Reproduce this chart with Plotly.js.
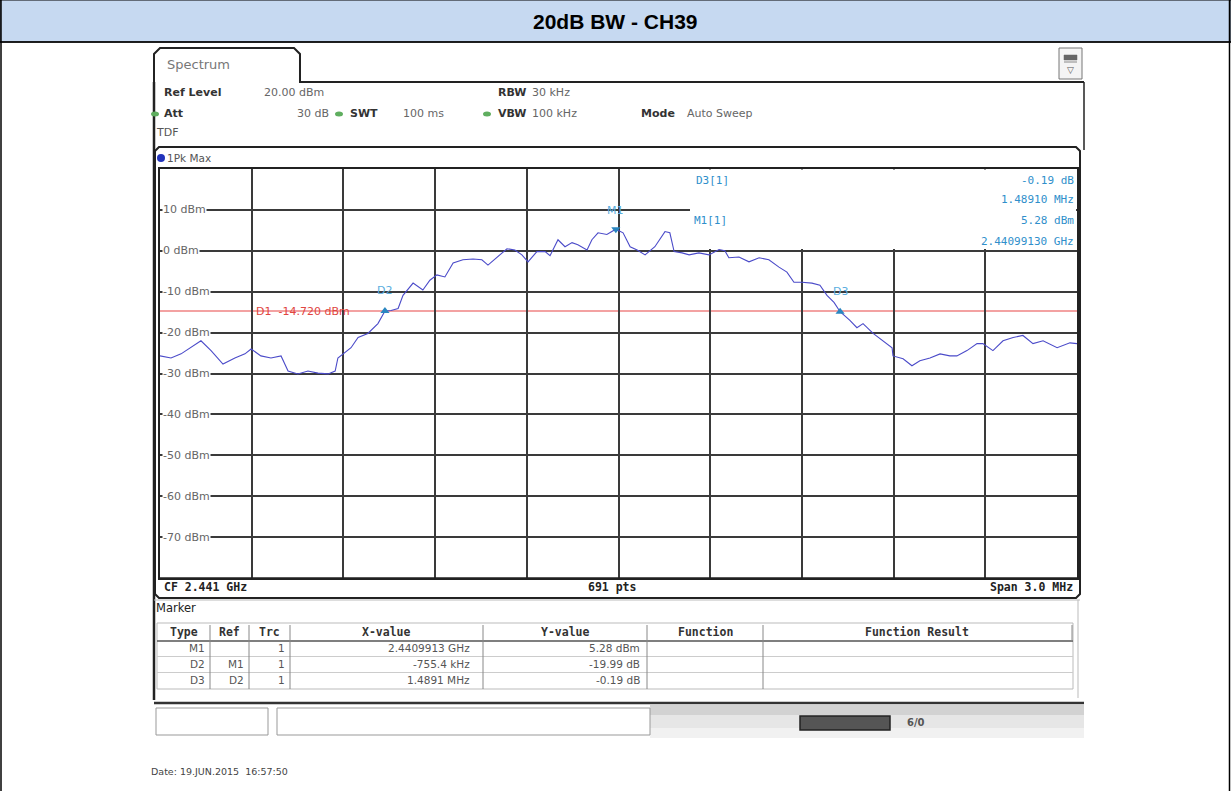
<!DOCTYPE html>
<html>
<head>
<meta charset="utf-8">
<script src="https://cdn.plot.ly/plotly-3.0.1.min.js"></script>
<style>html,body{margin:0;padding:0;background:#fff;}#chart{width:1231px;height:791px;}</style>
</head>
<body>
<div id="chart"></div>
<script>
// ---------------- DATA ----------------
const chartTitle = '20dB BW - CH39';
const freqMHz = [2439.500,2439.536,2439.569,2439.601,2439.634,2439.667,2439.706,2439.745,2439.778,2439.798,
2439.830,2439.863,2439.896,2439.919,2439.951,2439.984,2440.017,2440.050,2440.073,2440.082,
2440.105,2440.125,2440.148,2440.180,2440.213,2440.236,2440.256,2440.279,2440.295,2440.328,
2440.360,2440.383,2440.406,2440.432,2440.459,2440.491,2440.524,2440.553,2440.573,2440.603,
2440.635,2440.661,2440.684,2440.704,2440.733,2440.760,2440.776,2440.802,2440.825,2440.848,
2440.867,2440.897,2440.913,2440.933,2440.962,2440.991,2441.015,2441.038,2441.061,2441.087,
2441.119,2441.152,2441.168,2441.182,2441.208,2441.231,2441.263,2441.296,2441.329,2441.348,
2441.361,2441.394,2441.427,2441.460,2441.492,2441.525,2441.551,2441.574,2441.600,2441.633,
2441.659,2441.682,2441.705,2441.725,2441.757,2441.780,2441.800,2441.833,2441.865,2441.895,
2441.898,2441.931,2441.960,2441.986,2442.019,2442.052,2442.084,2442.107,2442.140,2442.173,
2442.192,2442.225,2442.258,2442.291,2442.323,2442.356,2442.389,2442.435,2442.477,2442.500];
const levelDbm = [-25.7,-26.2,-25.2,-23.7,-22.0,-24.4,-27.7,-26.2,-25.2,-24.0,
-25.7,-26.2,-25.7,-29.4,-30.1,-29.4,-29.9,-30.1,-29.4,-26.2,
-24.9,-23.7,-21.2,-20.2,-17.8,-14.7,-14.6,-14.1,-10.9,-7.9,
-9.6,-7.2,-5.9,-6.4,-3.0,-2.2,-2.0,-2.2,-3.5,-1.5,
0.5,0.2,-1.0,-2.7,-0.2,-0.2,-1.2,2.7,1.0,2.0,
1.5,0.2,2.7,4.4,4.0,5.28,4.4,1.0,0.2,-1.0,
1.0,4.7,4.4,-0.2,-0.5,-1.0,-0.5,-1.0,0.3,0.0,
-1.7,-1.5,-2.7,-1.7,-2.2,-4.0,-5.2,-7.7,-7.7,-7.9,
-8.4,-10.9,-12.6,-14.9,-17.0,-18.8,-17.8,-20.2,-22.0,-23.7,
-25.7,-26.4,-28.1,-26.9,-26.2,-25.2,-25.7,-25.7,-24.4,-22.7,
-22.7,-24.4,-22.0,-21.2,-20.7,-22.7,-22.0,-23.7,-22.5,-22.7];
const xRangeMHz = [2439.5, 2442.5];
const xDivMHz = 0.3;
const yRangeDbm = [-80, 20];
const yTickVals = [10, 0, -10, -20, -30, -40, -50, -60, -70];
const yTickText = ['10 dBm', '0 dBm', '-10 dBm', '-20 dBm', '-30 dBm', '-40 dBm', '-50 dBm', '-60 dBm', '-70 dBm'];
const markerNames = ['M1', 'D2', 'D3'];
const markerFreqMHz = [2440.9913, 2440.2359, 2441.7250];
const markerLevel = [5.28, -14.71, -14.90];
const markerSymbols = ['triangle-down', 'triangle-up', 'triangle-up'];
const d1Level = -14.72;
const d1Label = 'D1  -14.720 dBm';
const infoLeft = ['D3[1]', 'M1[1]'];
const infoRight = ['-0.19 dB', '1.48910 MHz', '5.28 dBm', '2.44099130 GHz'];
const headerBold = ['Ref Level', 'RBW', 'Att', 'SWT', 'VBW', 'Mode'];
const headerVals = ['20.00 dBm', '30 kHz', '30 dB', '100 ms', '100 kHz', 'Auto Sweep'];
const footerTexts = ['CF 2.441 GHz', '691 pts', 'Span 3.0 MHz'];
const tableHeaders = ['Type', 'Ref', 'Trc', 'X-value', 'Y-value', 'Function', 'Function Result'];
const tableType = ['M1', 'D2', 'D3'];
const tableRef = ['', 'M1', 'D2'];
const tableTrc = ['1', '1', '1'];
const tableX = ['2.4409913 GHz', '-755.4 kHz', '1.4891 MHz'];
const tableY = ['5.28 dBm', '-19.99 dB', '-0.19 dB'];
const dateText = 'Date: 19.JUN.2015  16:57:50';

// ---------------- LAYOUT HELPERS ----------------
const W = 1231, H = 791;
const px = x => x / W;
const py = y => 1 - y / H;
const SANS = 'DejaVu Sans, Verdana, sans-serif';
const MONO = 'DejaVu Sans Mono, monospace';
const BLUE = '#2f8fcb';
const annotations = [];
const shapes = [];
function txt(x, y, text, o) {
  o = o || {};
  annotations.push({
    xref: 'paper', yref: 'paper', x: px(x), y: py(y), text: text, showarrow: false,
    xanchor: o.anchor || 'left', yanchor: 'middle',
    font: {family: o.family || SANS, size: o.size || 11, color: o.color || '#555'},
    bgcolor: o.bg || 'rgba(0,0,0,0)', borderpad: o.pad === undefined ? 0 : o.pad
  });
}
function rect(x0, y0, x1, y1, o) {
  o = o || {};
  shapes.push({type: 'rect', xref: 'paper', yref: 'paper', x0: px(x0), x1: px(x1), y0: py(y1), y1: py(y0),
    fillcolor: o.fill || 'rgba(0,0,0,0)', line: {color: o.line || 'rgba(0,0,0,0)', width: o.lw === undefined ? 1 : o.lw},
    layer: o.layer || 'below'});
}
function line(x0, y0, x1, y1, color, w, layer) {
  shapes.push({type: 'line', xref: 'paper', yref: 'paper', x0: px(x0), x1: px(x1), y0: py(y0), y1: py(y1),
    line: {color: color, width: w}, layer: layer || 'above'});
}
function path(pts, color, w, fill) {
  const d = pts.map((p, i) => (i ? 'L' : 'M') + px(p[0]).toFixed(5) + ',' + py(p[1]).toFixed(5)).join(' ') + (fill ? ' Z' : '');
  shapes.push({type: 'path', xref: 'paper', yref: 'paper', path: d, line: {color: color, width: w},
    fillcolor: fill || 'rgba(0,0,0,0)', layer: 'above'});
}

// ---- outer document table + title ----
rect(0, 0, 1231, 42, {fill: '#c6d9f1', line: '#000', lw: 1});
line(1, 0, 1, 791, '#000', 1.5);
line(1229.5, 0, 1229.5, 791, '#000', 1.5);
line(0, 42, 1231, 42, '#000', 1.5);
txt(615.5, 22, '<b>' + chartTitle + '</b>', {anchor: 'center', family: 'Liberation Sans, Arial, sans-serif', size: 21, color: '#000'});

// ---- Spectrum tab and header ----
path([[154, 82], [154, 54], [160, 48], [294, 48], [300, 54], [300, 82], [1084, 82]], '#222', 2);
line(154, 82, 154, 700, '#222', 2.5);
rect(1059, 48, 1082, 79, {fill: '#f4f4f4', line: '#777', lw: 1, layer: 'above'});
rect(1064, 55, 1077, 60, {fill: '#666', line: '#666', lw: 0.5, layer: 'above'});
line(1064, 62, 1077, 62, '#888', 1);
txt(1070.5, 70, '▽', {anchor: 'center', size: 9, color: '#555'});
txt(166, 64, 'Spectrum', {size: 13, color: '#777'});
line(1084, 82, 1084, 150, '#222', 1.5);

const hx = [163, 497, 163, 349, 497, 640];
const hy = [92, 92, 114, 114, 114, 114];
const vx = [263, 531, 330, 402, 531, 686];
const vAnchor = ['left', 'left', 'right', 'left', 'left', 'left'];
for (let i = 0; i < headerBold.length; i++) {
  txt(hx[i], hy[i], '<b>' + headerBold[i] + '</b>', {size: 11, color: '#333'});
  txt(vx[i], hy[i], headerVals[i], {size: 11, color: '#666', anchor: vAnchor[i]});
}
[[155, 114], [339, 114], [487, 114]].forEach(d => {
  shapes.push({type: 'circle', xref: 'paper', yref: 'paper', x0: px(d[0] - 4), x1: px(d[0] + 4), y0: py(d[1] + 2.5), y1: py(d[1] - 2.5),
    fillcolor: '#5fae5f', line: {color: '#5fae5f', width: 0}, layer: 'above'});
});
txt(155, 132, 'TDF', {size: 11, color: '#555'});

// ---- diagram frame ----
path([[155, 155], [155, 151], [159, 147], [1076, 147], [1080, 151], [1080, 594], [1076, 598], [159, 598], [155, 594], [155, 155]], '#222', 2);
line(158, 168, 1078, 168, '#222', 1.5);
shapes.push({type: 'circle', xref: 'paper', yref: 'paper', x0: px(157), x1: px(165), y0: py(162), y1: py(154),
  fillcolor: '#2233bb', line: {color: '#2233bb', width: 0}, layer: 'above'});
txt(166, 158, '1Pk Max', {size: 10.5, color: '#555'});
line(158, 578, 1078, 578, '#222', 1.5);
txt(163, 587, '<b>' + footerTexts[0] + '</b>', {family: MONO, size: 11.5, color: '#222'});
txt(612, 587, '<b>' + footerTexts[1] + '</b>', {family: MONO, size: 11.5, color: '#222', anchor: 'center'});
txt(1074, 587, '<b>' + footerTexts[2] + '</b>', {family: MONO, size: 11.5, color: '#222', anchor: 'right'});

// marker info box (white, covers grid)
rect(690, 169.5, 1076, 249, {fill: '#fff', layer: 'above'});
txt(695, 181, infoLeft[0], {family: MONO, size: 11, color: BLUE});
txt(693, 221, infoLeft[1], {family: MONO, size: 11, color: BLUE});
[181, 200, 221, 241].forEach((yy, i) => txt(1075, yy, infoRight[i], {family: MONO, size: 11, color: BLUE, anchor: 'right'}));

// D1 line + label
shapes.push({type: 'line', xref: 'paper', yref: 'y', x0: px(160), x1: px(1077), y0: d1Level, y1: d1Level,
  line: {color: '#f3a2a2', width: 2}, layer: 'below'});
annotations.push({xref: 'x', yref: 'y', x: xRangeMHz[0] + 0.3, y: d1Level, text: d1Label, showarrow: false,
  xanchor: 'left', yanchor: 'middle', xshift: 2, font: {family: SANS, size: 11, color: '#e0463f'}});

// y tick labels inside plot
yTickVals.forEach((v, i) => annotations.push({xref: 'paper', yref: 'y', x: px(162), y: v, text: yTickText[i], showarrow: false,
  xanchor: 'left', yanchor: 'middle', bgcolor: '#fff', borderpad: 0, font: {family: SANS, size: 11, color: '#666'}}));

// marker labels
const mlShift = [10, 12, 12];
markerNames.forEach((n, i) => annotations.push({xref: 'x', yref: 'y', x: markerFreqMHz[i], y: markerLevel[i], text: n,
  showarrow: false, xanchor: 'center', yanchor: 'bottom', yshift: mlShift[i], font: {family: SANS, size: 11, color: '#5aaee0'}}));

// ---- marker table ----
line(154, 600, 1080, 600, '#bbb', 1);
line(1078, 600, 1078, 698, '#bbb', 1);
txt(155, 608, 'Marker', {family: SANS, size: 11.5, color: '#222'});
rect(157, 623, 1073, 689, {line: '#bbb', lw: 1, layer: 'above'});
line(157, 641, 1073, 641, '#555', 1.5);
line(157, 656.5, 1073, 656.5, '#ccc', 1);
line(157, 672.5, 1073, 672.5, '#ccc', 1);
const colSep = [210, 249, 290, 483, 647, 763];
colSep.forEach(c => line(c, 625, c, 689, '#888', 1));
line(1072, 625, 1072, 641, '#888', 1);
const headCx = [184, 229, 269, 386, 565, 705, 917];
tableHeaders.forEach((h, i) => txt(headCx[i], 632, '<b>' + h + '</b>', {family: MONO, size: 11.5, color: '#333', anchor: 'center'}));
const rowY = [648, 664, 680];
const colR = [206, 245, 286, 471, 641];
for (let r = 0; r < 3; r++) {
  const vals = [tableType[r], tableRef[r], tableTrc[r], tableX[r], tableY[r]];
  vals.forEach((v, c) => { if (v) txt(colR[c], rowY[r], v, {size: 10.5, color: '#555', anchor: 'right'}); });
}

// ---- status bar ----
line(154, 703, 1084, 703, '#333', 2.5);
rect(650, 705, 1084, 738, {fill: '#e6e6e6', layer: 'above'});
rect(650, 705, 1084, 715, {fill: '#d2d2d2', layer: 'above'});
rect(650, 728, 1084, 738, {fill: '#f1f1f1', layer: 'above'});
rect(156, 708, 268, 735, {fill: '#fff', line: '#999', lw: 1, layer: 'above'});
rect(277, 708, 650, 735, {fill: '#fff', line: '#999', lw: 1, layer: 'above'});
rect(800, 716, 890, 730, {fill: '#555', line: '#222', lw: 1.5, layer: 'above'});
txt(906, 722, '<b>6/0</b>', {size: 10, color: '#555'});

// ---- date ----
txt(150, 771, dateText, {size: 9.5, color: '#444'});

// ---------------- TRACES ----------------
const traces = [
  {type: 'scatter', mode: 'lines', x: freqMHz, y: levelDbm, line: {color: '#4b4bc9', width: 1.1}, hoverinfo: 'skip'},
  {type: 'scatter', mode: 'markers', x: markerFreqMHz, y: markerLevel,
   marker: {symbol: markerSymbols, size: 8, color: '#2a86c0', line: {width: 0}}, hoverinfo: 'skip'}
];

const layout = {
  width: W, height: H, margin: {l: 0, r: 0, t: 0, b: 0}, paper_bgcolor: '#fff', plot_bgcolor: '#fff',
  showlegend: false,
  xaxis: {domain: [px(160), px(1077)], range: xRangeMHz, tick0: xRangeMHz[0], dtick: xDivMHz, showticklabels: false,
    ticks: '', showgrid: true, gridcolor: '#3a3a3a', gridwidth: 2, zeroline: false,
    showline: true, mirror: true, linecolor: '#222', linewidth: 2, fixedrange: true},
  yaxis: {domain: [py(578), py(169)], range: yRangeDbm, dtick: 10, showticklabels: false, ticks: '',
    showgrid: true, gridcolor: '#3a3a3a', gridwidth: 2, zeroline: false,
    showline: true, mirror: true, linecolor: '#222', linewidth: 2, fixedrange: true},
  shapes: shapes, annotations: annotations
};
Plotly.newPlot('chart', traces, layout, {displayModeBar: false, staticPlot: true});
</script>
</body>
</html>
